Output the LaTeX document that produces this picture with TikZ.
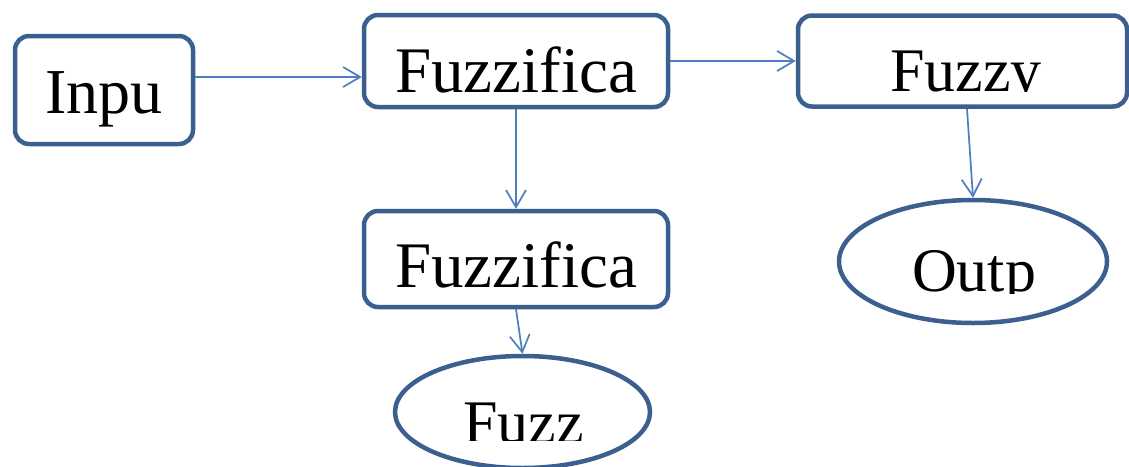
\documentclass[tikz,border=0pt]{standalone}
\usepackage{fontspec}
\setmainfont{Liberation Serif}
\usetikzlibrary{arrows.meta,shapes.geometric}
\definecolor{boxline}{HTML}{3B5F8E}
\definecolor{flow}{HTML}{4A7EBF}
\tikzset{
  stage/.style={draw=boxline, line width=4.5pt, rounded corners=14pt, fill=white, inner sep=0pt},
  terminal/.style={draw=boxline, line width=4.5pt, ellipse, fill=white, inner sep=0pt},
  txt/.style={inner sep=0pt, text=black, font=\fontsize{#1}{#1}\selectfont},
  txt/.default=62,
  flowarrow/.style={draw=flow, line width=1.7pt, -{Straight Barb[length=17pt,width=20pt]}},
}
\begin{document}
\begin{tikzpicture}[x=1pt, y=-1pt]
  \useasboundingbox (0,0) rectangle (1129,466);

  % boxes and ellipses
  \node[stage, minimum width=178pt, minimum height=108pt] (in) at (104,90) {};
  \node[stage, minimum width=304pt, minimum height=92pt] (f1) at (516,61) {};
  \node[stage, minimum width=329pt, minimum height=91pt] (fz) at (962.5,61) {};
  \node[stage, minimum width=304pt, minimum height=96pt] (f2) at (516,259) {};
  \node[terminal, minimum width=268pt, minimum height=123pt] (outp) at (973,261.5) {};
  \node[terminal, minimum width=255pt, minimum height=112pt] (fuzz) at (522.5,412) {};

  % labels
  \node[txt=64, anchor=base] (inT) at (104,113) {Inpu};
  \node[txt=65, anchor=base] (f1T) at (516,92) {Fuzzifica};
  \node[txt=65, anchor=base] (f2T) at (516,287) {Fuzzifica};
  \begin{scope}
    \clip (800,17) rectangle (1125,91);
    \node[txt, anchor=base west] (fzT) at (890,91) {Fuzzy};
  \end{scope}
  \begin{scope}
    \clip (840,200) rectangle (1105,293);
    \node[txt, anchor=base west] (outT) at (912,291) {Outp};
  \end{scope}
  \begin{scope}
    \clip (400,356) rectangle (645,440);
    \node[txt, anchor=base west] (fuzzT) at (463,443) {Fuzz};
  \end{scope}

  % connectors
  \draw[flowarrow] ([yshift=13pt]in.east) -- ([yshift=13pt]in.east -| f1.west);
  \draw[flowarrow] (f1.east) -- (fz.west);
  \draw[flowarrow] (f1.south) -- (f2.north);
  \draw[flowarrow] (f2.south) -- (fuzz.north);
  \draw[flowarrow] ([xshift=4.5pt]fz.south) -- (outp.north);
\end{tikzpicture}
\end{document}
